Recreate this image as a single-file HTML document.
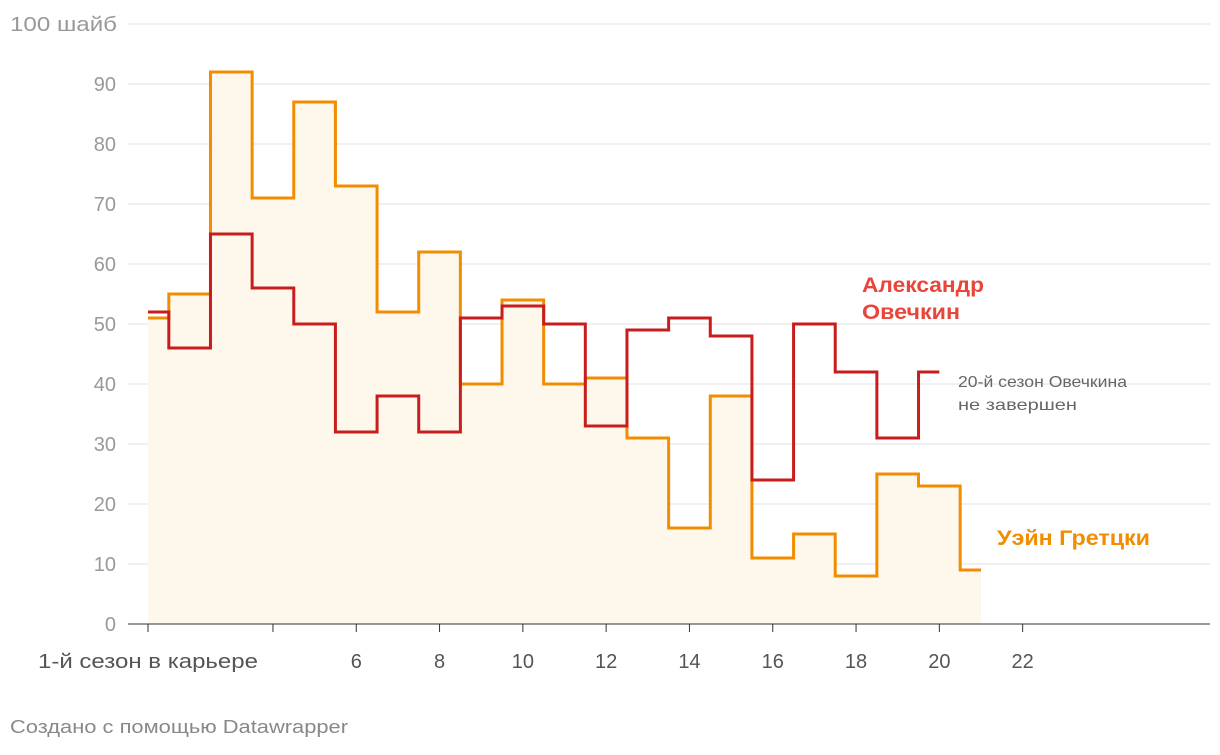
<!DOCTYPE html>
<html><head><meta charset="utf-8"><style>
body{margin:0;background:#fff;width:1220px;height:750px;overflow:hidden;font-family:"Liberation Sans","DejaVu Sans",sans-serif}
</style></head><body>
<svg id="chart" width="1220" height="750" xmlns="http://www.w3.org/2000/svg" font-family="Liberation Sans, DejaVu Sans, sans-serif">
<g id="grid"></g><g id="marks"></g><g id="axes"></g>
<text x="862" y="292" font-size="21" font-weight="bold" fill="#e8463a" textLength="122" lengthAdjust="spacingAndGlyphs">Александр</text>
<text x="862" y="319" font-size="21" font-weight="bold" fill="#e8463a" textLength="98" lengthAdjust="spacingAndGlyphs">Овечкин</text>
<text x="958" y="387" font-size="16" fill="#666" textLength="169" lengthAdjust="spacingAndGlyphs">20-й сезон Овечкина</text>
<text x="958" y="410" font-size="16" fill="#666" textLength="119" lengthAdjust="spacingAndGlyphs">не завершен</text>
<text x="997" y="545" font-size="21" font-weight="bold" fill="#f28c00" textLength="153" lengthAdjust="spacingAndGlyphs">Уэйн Гретцки</text>
<text x="10" y="733" font-size="18" fill="#888" textLength="338" lengthAdjust="spacingAndGlyphs">Создано с помощью Datawrapper</text>
</svg>
<script>
const seasonsG=[1,2,3,4,5,6,7,8,9,10,11,12,13,14,15,16,17,18,19,20,21];
const gretzky=[51,55,92,71,87,73,52,62,40,54,40,41,31,16,38,11,15,8,25,23,9];
const seasonsO=[1,2,3,4,5,6,7,8,9,10,11,12,13,14,15,16,17,18,19,20];
const ovechkin=[52,46,65,56,50,32,38,32,51,53,50,33,49,51,48,24,50,42,31,42];
const yTicks=[0,10,20,30,40,50,60,70,80,90,100];
const xTicks=[1,4,6,8,10,12,14,16,18,20,22];
const xTickLabels=["1-й сезон в карьере","","6","8","10","12","14","16","18","20","22"];
const NS="http://www.w3.org/2000/svg";
const X=s=>148+(s-1)*41.65, Y=v=>624-6*v;
function mk(t,a,p){const e=document.createElementNS(NS,t);for(const k in a)e.setAttribute(k,a[k]);document.getElementById(p).appendChild(e);return e;}
yTicks.forEach(v=>{
 if(v>0){const l=mk('line',{x1:128,x2:1210,y1:Y(v),y2:Y(v),stroke:'#e0e0e0','stroke-width':1},'grid');
 
 }
 const a={x:v==100?10:116,y:Y(v)+7,'font-size':20,fill:'#999','text-anchor':v==100?'start':'end'};
 if(v==100){a.textLength=107;a.lengthAdjust='spacingAndGlyphs';}
 const t=mk('text',a,'axes');
 t.textContent=v==100?'100 шайб':v;
 
 
});
const base=mk('line',{x1:128,x2:1210,y1:624,y2:624,stroke:'#333','stroke-width':1},'axes');


xTicks.forEach((s,i)=>{
 const tk=mk('line',{x1:X(s),x2:X(s),y1:624,y2:632,stroke:'#333'},'axes');
 
 
 const a={x:i==0?38:X(s),y:668,'font-size':20,fill:'#555','text-anchor':i==0?'start':'middle'};
 if(i==0){a.textLength=220;a.lengthAdjust='spacingAndGlyphs';}
 const t=mk('text',a,'axes');
 t.textContent=xTickLabels[i];
 
 
});
function stepPath(xs,vs){let d='M'+X(xs[0])+','+Y(vs[0]);
 for(let i=1;i<xs.length;i++){const m=(X(xs[i-1])+X(xs[i]))/2;d+=' H'+m+' V'+Y(vs[i]);}
 d+=' H'+X(xs[xs.length-1]);return d;}
const gp=stepPath(seasonsG,gretzky);
const area=mk('path',{d:gp+' V624 H'+X(seasonsG[0])+' Z',fill:'#fef7ec'},'marks');


const gl=mk('path',{d:gp,fill:'none',stroke:'#f28c00','stroke-width':3},'marks');


const ol=mk('path',{d:stepPath(seasonsO,ovechkin),fill:'none',stroke:'#c71e1d','stroke-width':3},'marks');


</script>
</body></html>
